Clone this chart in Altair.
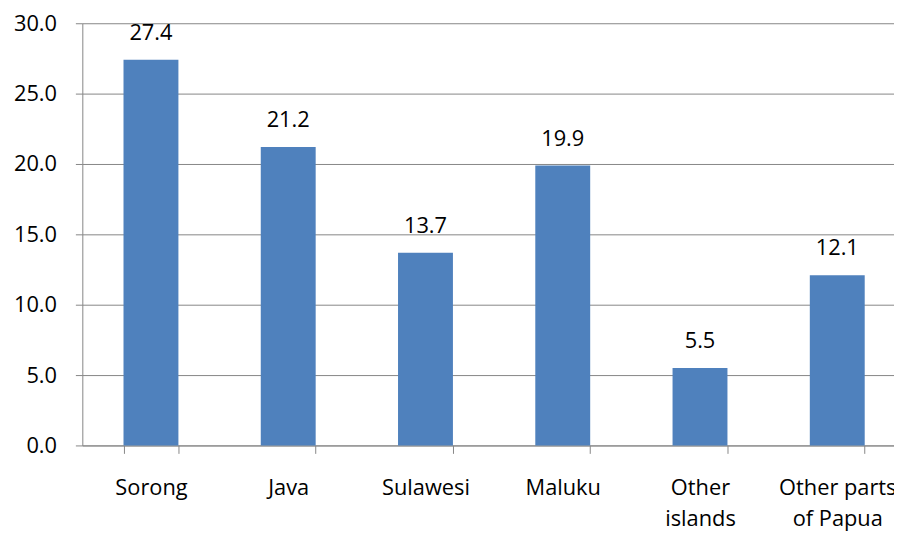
import altair as alt
import pandas as pd

categories = ["Sorong", "Java", "Sulawesi", "Maluku", "Other\nislands", "Other parts\nof Papua"]
values = [27.4, 21.2, 13.7, 19.9, 5.5, 12.1]

df = pd.DataFrame({"cat": categories, "val": values})

FONT = "Open Sans"
FS = 22
GRAY = "#868686"

x = alt.X("cat:N", sort=categories, title=None,
          scale=alt.Scale(range=[0, 831], paddingInner=0.6, paddingOuter=0.3),
          axis=alt.Axis(tickBand="extent", tickSize=8, tickColor=GRAY, domainColor=GRAY,
                        labelAngle=0, labelFont=FONT, labelFontSize=FS, labelColor="black",
                        labelPadding=25, labelBaseline="top", labelLineHeight=31,
                        labelExpr="split(datum.label, '\\n')", grid=False))
y = alt.Y("val:Q", title=None,
          scale=alt.Scale(domain=[0, 30], nice=False, zero=True),
          axis=alt.Axis(values=[0, 5, 10, 15, 20, 25, 30], format=".1f", tickSize=7,
                        tickColor=GRAY, domainColor=GRAY, gridColor=GRAY, grid=True,
                        labelFont=FONT, labelFontSize=FS, labelColor="black", labelPadding=19))

bars = alt.Chart(df).mark_bar(color="#4F81BD").encode(x=x, y=y)
labels = alt.Chart(df).mark_text(font=FONT, fontSize=FS, color="black", baseline="alphabetic",
                                 dy=-20).encode(
    x=alt.X("cat:N", sort=categories),
    y=alt.Y("val:Q"),
    text=alt.Text("val:Q", format=".1f"))

chart = (bars + labels).properties(
    width=819, height=426,
    autosize=alt.AutoSizeParams(type="none"),
    padding={"left": 75, "top": 13, "right": 0, "bottom": 89},
).configure_view(stroke=None).configure_axis(gridWidth=1, domainWidth=1, tickWidth=1)

chart.save("out.html", embed_options={"renderer": "svg", "actions": False})
